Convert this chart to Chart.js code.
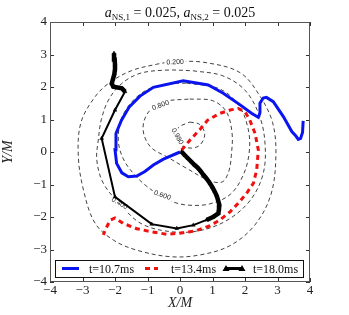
<!DOCTYPE html>
<html>
<head>
<meta charset="utf-8">
<script src="https://cdn.jsdelivr.net/npm/chart.js@4.4.0/dist/chart.umd.min.js"></script>
<style>
  html, body { margin: 0; padding: 0; background: #fff; }
  canvas { display: block; }
</style>
</head>
<body>
<canvas id="orbitChart" width="349" height="315"></canvas>
<script>
// Trajectories, [X/M, Y/M]
const track107 = [
    [0.0, 0.0], [-0.51, -0.22], [-0.82, -0.4], [-1.08, -0.6], [-1.33, -0.74], [-1.59, -0.76],
    [-1.79, -0.64], [-1.95, -0.35], [-2.0, 0.07], [-1.97, 0.57], [-1.8, 0.98], [-1.56, 1.39],
    [-1.23, 1.72], [-0.82, 1.99], [0.1, 2.19], [0.87, 2.06], [1.33, 1.81], [1.85, 1.45],
    [2.2, 1.19], [2.41, 1.07], [2.46, 1.2], [2.46, 1.5], [2.56, 1.66], [2.66, 1.68],
    [2.87, 1.55], [3.18, 1.09], [3.44, 0.63], [3.56, 0.5], [3.64, 0.39], [3.71, 0.42],
    [3.77, 0.6], [3.79, 0.96]
];
const track134 = [
    [0.05, 0.06], [0.31, 0.37], [0.62, 0.7], [0.85, 0.98], [1.23, 1.19], [1.54, 1.29],
    [1.79, 1.34], [2.0, 1.24], [2.15, 0.98], [2.31, 0.57], [2.41, 0.06], [2.36, -0.55],
    [2.26, -0.96], [2.05, -1.27], [1.79, -1.58], [1.54, -1.84], [1.23, -2.09], [0.92, -2.27],
    [0.5, -2.42], [0.0, -2.5], [-0.41, -2.53], [-0.9, -2.45], [-1.33, -2.36], [-1.74, -2.2],
    [-2.0, -2.03], [-2.15, -2.1], [-2.28, -2.36], [-2.36, -2.55]
];
const track180 = [
    [0.05, 0.01], [0.15, -0.1], [0.25, -0.2], [0.35, -0.3], [0.45, -0.4], [0.55, -0.49],
    [0.63, -0.58], [0.72, -0.7], [0.82, -0.82], [0.92, -0.96], [1.0, -1.09], [1.07, -1.22],
    [1.13, -1.35], [1.17, -1.48], [1.21, -1.63], [1.2, -1.76], [1.18, -1.89], [1.03, -1.99],
    [0.82, -2.09], [0.41, -2.25], [-0.1, -2.35], [-0.87, -2.22], [-2.0, -1.38], [-2.41, 0.42],
    [-2.0, 1.29], [-1.69, 1.86], [-1.79, 1.96], [-2.05, 2.01], [-2.1, 2.11], [-2.06, 2.25],
    [-2.02, 2.4], [-2.0, 2.55], [-2.0, 2.7], [-2.01, 2.85], [-2.03, 3.04]
];

// Contour levels (closed curves)
const contour200 = [
    [-0.15, 2.8], [0.8, 2.75], [1.85, 2.44], [2.46, 1.72], [2.85, 0.9], [2.95, -0.1],
    [2.8, -1.3], [2.3, -2.25], [1.54, -2.88], [0.6, -3.17], [-0.31, -3.22], [-1.33, -3.02],
    [-2.05, -2.71], [-2.62, -2.18], [-2.97, -1.17], [-3.13, -0.1], [-3.05, 0.9], [-2.65, 1.65],
    [-2.2, 2.11], [-1.5, 2.5], [-0.72, 2.7], [-0.15, 2.8]
];
const contour400 = [
    [0.4, 2.5], [1.3, 2.35], [2.0, 1.9], [2.45, 1.1], [2.62, 0.2], [2.55, -0.7],
    [2.15, -1.5], [1.45, -2.1], [0.6, -2.42], [-0.3, -2.45], [-1.2, -2.2], [-1.85, -1.6],
    [-2.36, -0.96], [-2.56, -0.25], [-2.51, 0.4], [-2.42, 1.0], [-2.2, 1.6], [-1.8, 2.1],
    [-1.23, 2.42], [-0.4, 2.52], [0.4, 2.5]
];
const contour600 = [
    [0.2, 2.12], [1.2, 1.95], [1.8, 1.45], [2.1, 0.7], [2.13, 0.0], [1.95, -0.7],
    [1.55, -1.3], [0.9, -1.6], [0.2, -1.63], [-0.3, -1.5], [-0.9, -1.15], [-1.38, -0.72],
    [-1.75, -0.2], [-1.9, 0.4], [-1.75, 1.15], [-1.2, 1.8], [-0.5, 2.08], [0.2, 2.12]
];
const contour800 = [
    [0.3, 1.63], [1.0, 1.58], [1.42, 1.25], [1.6, 0.6], [1.58, -0.1], [1.5, -0.6],
    [1.3, -0.92], [0.9, -0.88], [0.2, -0.5], [-0.4, -0.15], [-0.87, 0.12], [-1.1, 0.5],
    [-1.12, 0.9], [-0.92, 1.29], [-0.5, 1.55], [0.3, 1.63]
];
const contour980 = [
    [0.3, 0.92], [0.6, 0.85], [0.76, 0.55], [0.62, 0.22], [0.35, 0.12], [0.05, 0.2],
    [-0.12, 0.45], [-0.05, 0.75], [0.3, 0.92]
];

// Inline labels on the contours
const contourLabels = [
    { level: '0.200', x: -0.15, y: 2.78, angle: -2 },
    { level: '0.400', x: -1.85, y: -1.57, angle: 30 },
    { level: '0.600', x: -0.54, y: -1.32, angle: 20 },
    { level: '0.800', x: -0.6, y: 1.45, angle: -20 },
    { level: '0.980', x: -0.07, y: 0.49, angle: 60 }
];

const legendLabels = ['t=10.7ms', 't=13.4ms', 't=18.0ms'];

const SERIF = '"Liberation Serif", "DejaVu Serif", serif';

function toXY(arr) {
    return arr.map(p => ({ x: p[0], y: p[1] }));
}

function contourDataset(level, pts) {
    return {
        label: level,
        data: toXY(pts),
        showLine: true,
        borderColor: '#111',
        borderWidth: 0.8,
        borderDash: [4, 3],
        pointRadius: 0,
        tension: 0.35,
        order: 5
    };
}

const minus = v => (v < 0 ? '\u2212' + Math.abs(v) : String(v));

// densely sampled stretches of the 18.0ms track look like a thick trail
const denseWidth = c => {
    const d = Math.hypot(c.p1.x - c.p0.x, c.p1.y - c.p0.y);
    return d < 9 ? 4.5 : 2;
};

// contour labels with white background, drawn right after each contour
const contourLabelPlugin = {
    id: 'contourLabels',
    afterDatasetDraw(chart, args) {
        const ds = chart.data.datasets[args.index];
        const lab = contourLabels.find(l => l.level === ds.label);
        if (!lab) return;
        const { ctx, scales } = chart;
        const px = scales.x.getPixelForValue(lab.x);
        const py = scales.y.getPixelForValue(lab.y);
        ctx.save();
        ctx.translate(px, py);
        ctx.rotate(lab.angle * Math.PI / 180);
        ctx.font = '7px "Liberation Sans", sans-serif';
        const w = ctx.measureText(lab.level).width;
        ctx.fillStyle = '#fff';
        ctx.fillRect(-w / 2 - 2, -4, w + 4, 8);
        ctx.fillStyle = '#222';
        ctx.textAlign = 'center';
        ctx.textBaseline = 'middle';
        ctx.fillText(lab.level, 0, 0.5);
        ctx.restore();
    }
};

// frame, inward ticks, title and in-plot legend
const decorPlugin = {
    id: 'decor',
    afterDraw(chart) {
        const { ctx, chartArea: a, scales } = chart;
        ctx.save();
        ctx.strokeStyle = '#333';
        ctx.lineWidth = 1;
        ctx.beginPath();
        scales.x.ticks.forEach(t => {
            const px = Math.round(scales.x.getPixelForValue(t.value)) + 0.5;
            ctx.moveTo(px, a.bottom); ctx.lineTo(px, a.bottom - 4);
            ctx.moveTo(px, a.top); ctx.lineTo(px, a.top + 4);
        });
        scales.y.ticks.forEach(t => {
            const py = Math.round(scales.y.getPixelForValue(t.value)) + 0.5;
            ctx.moveTo(a.left, py); ctx.lineTo(a.left + 4, py);
            ctx.moveTo(a.right, py); ctx.lineTo(a.right - 4, py);
        });
        ctx.stroke();
        ctx.strokeStyle = '#555';
        ctx.strokeRect(Math.round(a.left) + 0.5, Math.round(a.top) + 0.5,
            Math.round(a.right - a.left) - 1, Math.round(a.bottom - a.top) - 1);

        // title: a_{NS,1} = 0.025, a_{NS,2} = 0.025
        const parts = [
            { t: 'a', f: 'italic 14px ' + SERIF, dy: 0 },
            { t: 'NS,1', f: '9px ' + SERIF, dy: 3 },
            { t: ' = 0.025, ', f: '14px ' + SERIF, dy: 0 },
            { t: 'a', f: 'italic 14px ' + SERIF, dy: 0 },
            { t: 'NS,2', f: '9px ' + SERIF, dy: 3 },
            { t: ' = 0.025', f: '14px ' + SERIF, dy: 0 }
        ];
        let total = 0;
        parts.forEach(p => { ctx.font = p.f; p.w = ctx.measureText(p.t).width; total += p.w; });
        let tx = (a.left + a.right) / 2 - total / 2;
        ctx.fillStyle = '#111';
        ctx.textBaseline = 'alphabetic';
        parts.forEach(p => {
            ctx.font = p.f;
            ctx.fillText(p.t, tx, 17 + p.dy);
            tx += p.w;
        });

        // legend box
        const lx = 55, ly = 260, lw = 248, lh = 17, cy = ly + lh / 2;
        ctx.fillStyle = '#fff';
        ctx.fillRect(lx, ly, lw, lh);
        ctx.strokeStyle = '#111';
        ctx.strokeRect(lx + 0.5, ly + 0.5, lw, lh);
        const ds = chart.data.datasets;
        const items = [
            { d: ds[0], x0: 62, x1: 79, tx: 89 },
            { d: ds[1], x0: 145, x1: 158, tx: 171 },
            { d: ds[2], x0: 226, x1: 242, tx: 253 }
        ];
        items.forEach((it, i) => {
            ctx.save();
            ctx.strokeStyle = it.d.borderColor;
            ctx.lineWidth = it.d.pointStyle === 'triangle' ? 3 : it.d.borderWidth;
            ctx.setLineDash(it.d.borderDash || []);
            ctx.beginPath();
            ctx.moveTo(it.x0, cy); ctx.lineTo(it.x1, cy);
            ctx.stroke();
            ctx.restore();
            if (it.d.pointStyle === 'triangle') {
                [it.x0, it.x1].forEach(px => {
                    ctx.fillStyle = '#000';
                    ctx.beginPath();
                    ctx.moveTo(px - 3.5, cy + 2.5);
                    ctx.lineTo(px + 3.5, cy + 2.5);
                    ctx.lineTo(px, cy - 3.5);
                    ctx.closePath();
                    ctx.fill();
                });
            }
            ctx.fillStyle = '#111';
            ctx.font = '12px ' + SERIF;
            ctx.textBaseline = 'middle';
            ctx.fillText(legendLabels[i], it.tx, cy + 1);
        });
        ctx.restore();
    }
};

new Chart(document.getElementById('orbitChart'), {
    type: 'scatter',
    data: {
        datasets: [
            {
                label: legendLabels[0],
                data: toXY(track107),
                showLine: true,
                borderColor: '#0a14f0',
                borderWidth: 3,
                pointRadius: 0,
                tension: 0,
                order: 2
            },
            {
                label: legendLabels[1],
                data: toXY(track134),
                showLine: true,
                borderColor: '#f01010',
                borderWidth: 3,
                borderDash: [5, 4],
                pointRadius: 0,
                tension: 0,
                order: 1
            },
            {
                label: legendLabels[2],
                data: toXY(track180),
                showLine: true,
                borderColor: '#000',
                backgroundColor: '#000',
                borderWidth: 2,
                segment: { borderWidth: denseWidth },
                pointStyle: 'triangle',
                pointRadius: 2.2,
                pointBorderWidth: 0.5,
                pointBorderColor: '#000',
                tension: 0,
                order: 0
            },
            contourDataset('0.200', contour200),
            contourDataset('0.400', contour400),
            contourDataset('0.600', contour600),
            contourDataset('0.800', contour800),
            contourDataset('0.980', contour980)
        ]
    },
    options: {
        responsive: false,
        devicePixelRatio: 1,
        animation: false,
        layout: { padding: { left: 0, right: 39, top: 22, bottom: 0 } },
        plugins: {
            legend: { display: false },
            tooltip: { enabled: false },
            title: { display: false }
        },
        scales: {
            x: {
                type: 'linear',
                min: -4,
                max: 4,
                grid: { display: false, drawTicks: false },
                border: { display: false },
                ticks: {
                    stepSize: 1,
                    padding: 1,
                    color: '#222',
                    font: { family: SERIF, size: 13 },
                    maxRotation: 0,
                    callback: v => minus(v)
                },
                title: {
                    display: true,
                    text: 'X/M',
                    color: '#222',
                    padding: { top: 0, bottom: 3 },
                    font: { family: SERIF, size: 14, style: 'italic' }
                },
                afterFit: s => { s.height = 33; }
            },
            y: {
                type: 'linear',
                min: -4,
                max: 4,
                grid: { display: false, drawTicks: false },
                border: { display: false },
                ticks: {
                    stepSize: 1,
                    padding: 3,
                    color: '#222',
                    font: { family: SERIF, size: 13 },
                    callback: v => minus(v)
                },
                title: {
                    display: true,
                    text: 'Y/M',
                    color: '#222',
                    padding: { top: 0, bottom: 0 },
                    font: { family: SERIF, size: 14, style: 'italic' }
                },
                afterFit: s => { s.width = 50; }
            }
        }
    },
    plugins: [contourLabelPlugin, decorPlugin]
});
</script>
</body>
</html>
